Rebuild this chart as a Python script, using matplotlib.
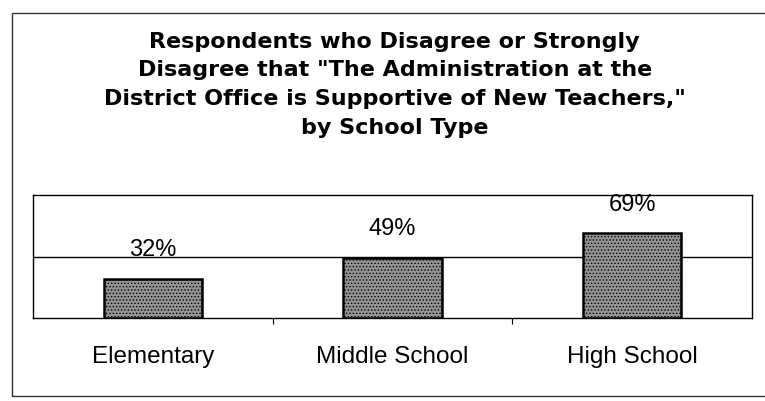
import matplotlib
matplotlib.use('Agg')
import matplotlib.pyplot as plt
from matplotlib.patches import Rectangle

# data
school_types = ['Elementary', 'Middle School', 'High School']
pct_disagree = [32, 49, 69]
title_lines = [
    'Respondents who Disagree or Strongly',
    'Disagree that "The Administration at the',
    'District Office is Supportive of New Teachers,"',
    'by School Type',
]

plt.rcParams['font.family'] = ['Liberation Sans', 'DejaVu Sans']
plt.rcParams['hatch.color'] = '#e4e4e4'
plt.rcParams['hatch.linewidth'] = 0.6

fig = plt.figure(figsize=(7.65, 4.02), dpi=100)
ax = fig.add_axes([0.043, 0.206, 0.940, 0.306])

pos = range(len(school_types))
bars = ax.bar(pos, pct_disagree, width=0.41, color='#949494',
              edgecolor='black', linewidth=1.8, hatch='.....', zorder=3)

for b, v in zip(bars, pct_disagree):
    ax.annotate(f'{v}%', (b.get_x() + b.get_width() / 2, v),
                xytext=(0, 17), textcoords='offset points',
                ha='center', va='baseline', fontsize=17)

ax.set_xlim(-0.5, 2.5)
ax.set_ylim(0, 100)
ax.set_yticks([50])
ax.yaxis.grid(True, color='black', linewidth=1)
ax.tick_params(axis='y', length=0, labelleft=False)
ax.set_xticks([0.5, 1.5])
ax.tick_params(axis='x', length=4, width=0.8, direction='out', labelbottom=False)
for s in ax.spines.values():
    s.set_linewidth(1)
ax.set_axisbelow(True)

for i, name in enumerate(school_types):
    ax.text(i, -0.36, name, transform=ax.get_xaxis_transform(),
            ha='center', va='baseline', fontsize=17.5)

# title, one line at a time (baselines ~28.5 px apart)
for i, line in enumerate(title_lines):
    fig.text(0.516, 1 - (48 + 28.5 * i) / 402, line, ha='center', va='baseline',
             fontsize=16, fontweight='bold', family='DejaVu Sans')

# outer frame of the scanned figure
fig.patches.append(Rectangle((0.016, 0.012), 1.0, 0.953, transform=fig.transFigure,
                             fill=False, edgecolor='#333333', linewidth=1))

fig.savefig('out.png', dpi=100)
